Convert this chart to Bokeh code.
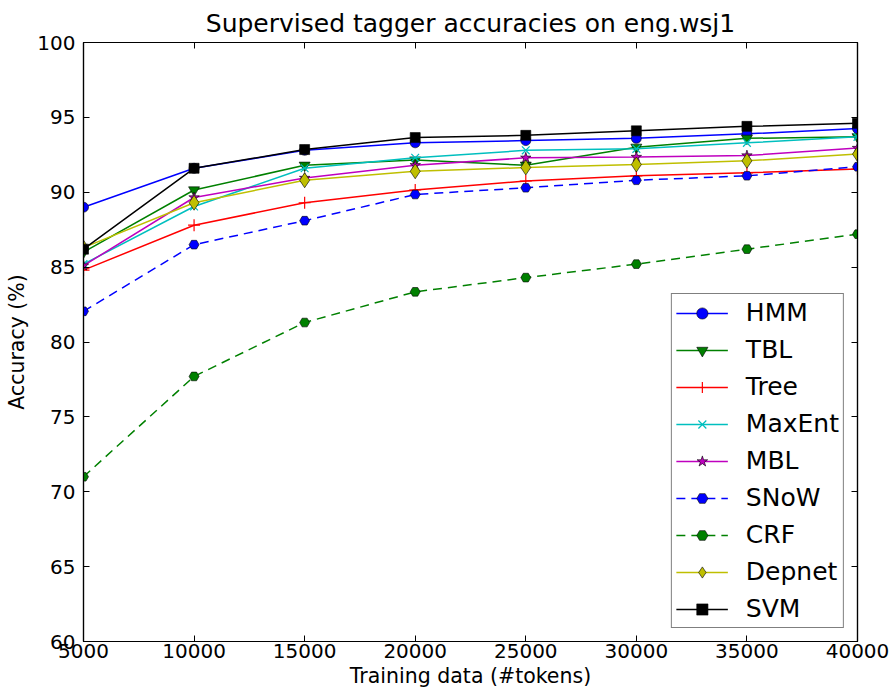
from bokeh.plotting import figure
from bokeh.models import Range1d, FixedTicker, LinearAxis, Legend, LegendItem
from bokeh.embed import file_html
from bokeh.resources import INLINE

tokens = [5000, 10000, 15000, 20000, 25000, 30000, 35000, 40000]
hmm    = [89.0, 91.6, 92.8, 93.3, 93.45, 93.6, 93.9, 94.25]
tbl    = [86.0, 90.15, 91.8, 92.15, 91.8, 93.0, 93.6, 93.7]
tree   = [84.8, 87.8, 89.3, 90.15, 90.75, 91.1, 91.3, 91.55]
maxent = [85.2, 89.05, 91.6, 92.3, 92.8, 92.9, 93.3, 93.7]
mbl    = [85.1, 89.65, 90.95, 91.8, 92.3, 92.35, 92.45, 92.95]
snow   = [82.05, 86.5, 88.1, 89.85, 90.3, 90.8, 91.1, 91.7]
crf    = [71.0, 77.7, 81.3, 83.35, 84.3, 85.2, 86.2, 87.2]
depnet = [86.3, 89.3, 90.8, 91.4, 91.65, 91.85, 92.1, 92.55]
svm    = [86.2, 91.6, 92.85, 93.65, 93.8, 94.1, 94.4, 94.6]

x_ticks = [5000, 10000, 15000, 20000, 25000, 30000, 35000, 40000]
y_ticks = [60, 65, 70, 75, 80, 85, 90, 95, 100]

FONT = "DejaVu Sans"

p = figure(width=895, height=696, output_backend="svg", toolbar_location=None,
           x_range=Range1d(5000, 40000), y_range=Range1d(60, 100),
           title="Supervised tagger accuracies on eng.wsj1",
           min_border_left=83, min_border_right=38, min_border_top=42, min_border_bottom=55)
p.title.align = "center"
p.title.text_font = FONT
p.title.text_font_size = "25px"
p.title.text_font_style = "normal"
p.title.text_color = "black"
p.title.standoff = 10
p.grid.visible = False
p.outline_line_color = "black"
p.outline_line_width = 1.2
p.background_fill_color = "white"
p.border_fill_color = "white"

for ax in p.xaxis:
    ax.ticker = FixedTicker(ticks=x_ticks)
    ax.axis_label = "Training data (#tokens)"
    ax.major_label_standoff = 2
    ax.axis_label_standoff = 3
for ax in p.yaxis:
    ax.ticker = FixedTicker(ticks=y_ticks)
    ax.axis_label = "Accuracy (%)"
    ax.major_label_standoff = 8
    ax.axis_label_standoff = 5
for ax in list(p.xaxis) + list(p.yaxis):
    ax.major_tick_in = 6
    ax.major_tick_out = 0
    ax.minor_tick_line_color = None
    ax.major_label_text_font = FONT
    ax.major_label_text_font_size = "20px"
    ax.major_label_text_color = "black"
    ax.axis_label_text_font = FONT
    ax.axis_label_text_font_size = "20.5px"
    ax.axis_label_text_font_style = "normal"
    ax.axis_label_text_color = "black"
    ax.axis_line_color = "black"
    ax.axis_line_width = 1.2

top = LinearAxis(ticker=FixedTicker(ticks=x_ticks), major_tick_in=6, major_tick_out=0,
                 minor_tick_line_color=None, major_label_text_color=None,
                 major_label_text_font_size="1px", major_label_standoff=0,
                 axis_line_color="black", axis_line_width=1.2)
right = LinearAxis(ticker=FixedTicker(ticks=y_ticks), major_tick_in=6, major_tick_out=0,
                   minor_tick_line_color=None, major_label_text_color=None,
                   major_label_text_font_size="1px", major_label_standoff=0,
                   axis_line_color="black", axis_line_width=1.2)
p.add_layout(top, "above")
p.add_layout(right, "right")

series = [
    ("HMM", hmm, "#0000ff", "circle", 10, "solid"),
    ("TBL", tbl, "#008000", "inverted_triangle", 11, "solid"),
    ("Tree", tree, "#ff0000", "cross", 12, "solid"),
    ("MaxEnt", maxent, "#00bfbf", "x", 11, "solid"),
    ("MBL", mbl, "#bf00bf", "star", 11, "solid"),
    ("SNoW", snow, "#0000ff", "hex", 10, "9 6"),
    ("CRF", crf, "#008000", "hex", 10, "9 6"),
    ("Depnet", depnet, "#bfbf00", "diamond", 15, "solid"),
    ("SVM", svm, "#000000", "square", 10, "solid"),
]

items = []
for name, vals, color, marker, size, dash in series:
    ln = p.line(tokens, vals, line_color=color, line_width=1.5, line_dash=dash)
    if marker in ("cross", "x"):
        sc = p.scatter(tokens, vals, marker=marker, size=size, line_color=color,
                       line_width=1.2, fill_color=None)
    else:
        sc = p.scatter(tokens, vals, marker=marker, size=size, fill_color=color,
                       line_color="black", line_width=0.6)
    items.append(LegendItem(label=name, renderers=[ln, sc]))

legend = Legend(items=items, location="bottom_right", margin=13, padding=4,
                spacing=8, glyph_height=28, glyph_width=52, label_height=20,
                label_standoff=18, label_text_font=FONT, label_text_font_size="25px",
                label_text_color="black", border_line_color="black", border_line_width=1.2,
                background_fill_color="white", background_fill_alpha=1.0)
p.add_layout(legend, "center")

open("out.html", "w").write(file_html(p, INLINE))
